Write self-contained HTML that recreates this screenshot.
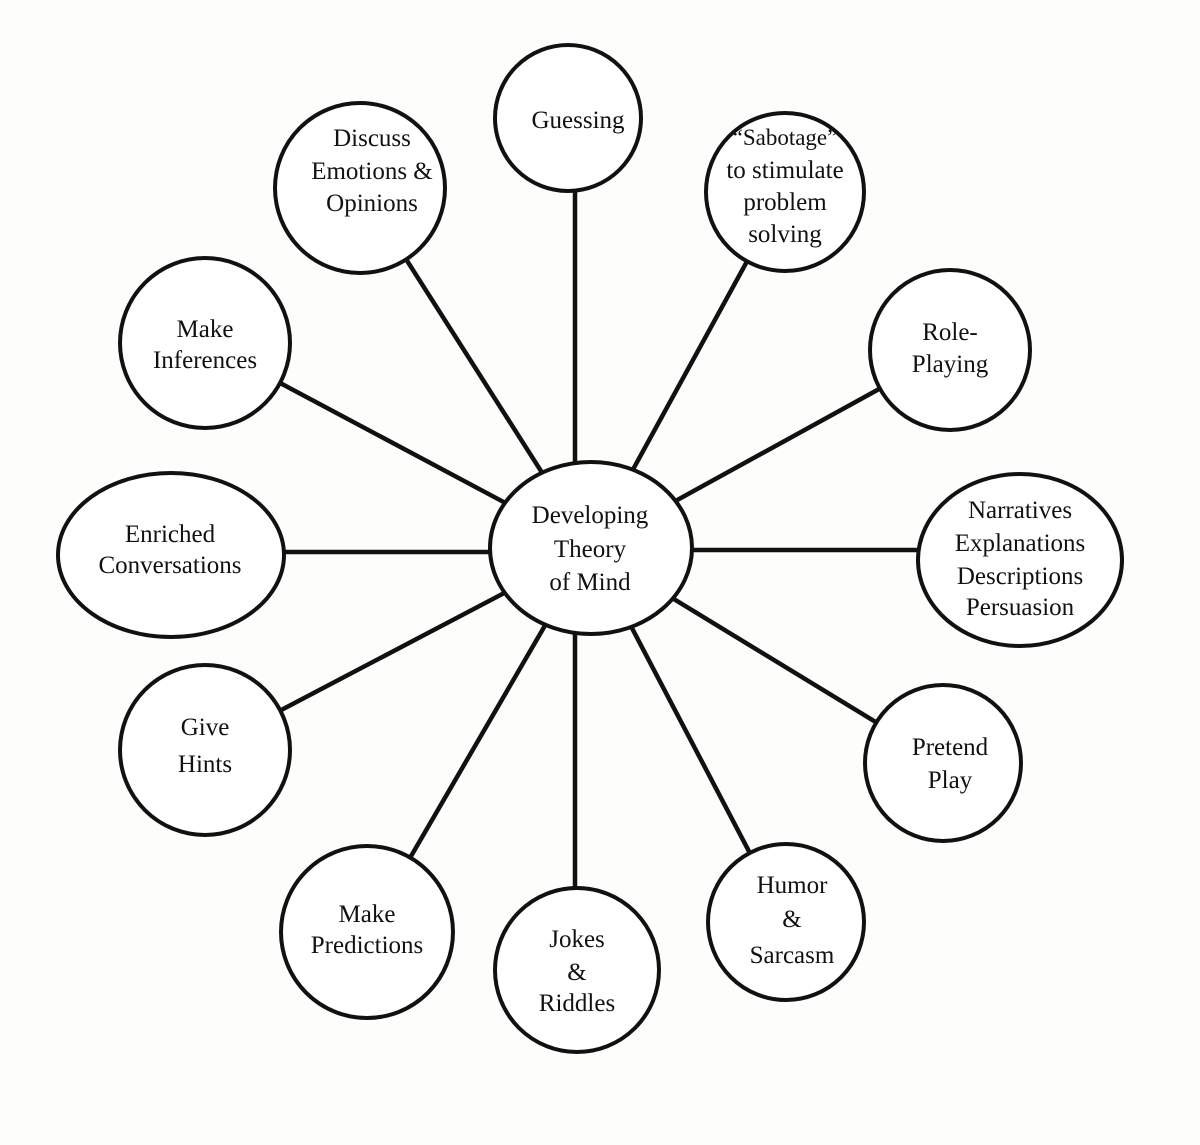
<!DOCTYPE html>
<html><head><meta charset="utf-8"><style>
html,body{margin:0;padding:0;background:#fdfdfb;}
svg{display:block}
text{font-family:"Liberation Serif",serif;font-size:25px;fill:#111;text-anchor:middle}
</style></head><body>
<svg width="1200" height="1145" viewBox="0 0 1200 1145">
<g stroke="#111" stroke-width="4.5">
<line x1="575" y1="548" x2="575" y2="115"/>
<line x1="590" y1="548" x2="785" y2="192"/>
<line x1="590" y1="548" x2="950" y2="350"/>
<line x1="590" y1="550" x2="1020" y2="550"/>
<line x1="590" y1="548" x2="943" y2="763"/>
<line x1="590" y1="548" x2="786" y2="922"/>
<line x1="575" y1="548" x2="575" y2="975"/>
<line x1="590" y1="548" x2="367" y2="932"/>
<line x1="590" y1="548" x2="205" y2="750"/>
<line x1="590" y1="552" x2="170" y2="552"/>
<line x1="590" y1="548" x2="205" y2="343"/>
<line x1="590" y1="548" x2="362" y2="190"/>
</g>
<g stroke="#111" stroke-width="4" fill="#fff">
<circle cx="568" cy="118" r="73"/>
<circle cx="785" cy="192" r="79"/>
<circle cx="950" cy="350" r="80"/>
<ellipse cx="1020" cy="560" rx="102" ry="86"/>
<circle cx="943" cy="763" r="78"/>
<circle cx="786" cy="922" r="78"/>
<circle cx="577" cy="970" r="82"/>
<circle cx="367" cy="932" r="86"/>
<circle cx="205" cy="750" r="85"/>
<ellipse cx="171" cy="555" rx="113" ry="82"/>
<circle cx="205" cy="343" r="85"/>
<circle cx="360" cy="188" r="85"/>
<ellipse cx="591" cy="548" rx="101" ry="86"/>
</g>
<text x="578" y="128">Guessing</text>
<text x="785" y="145" style="font-size:23px">“Sabotage”</text>
<text x="785" y="178">to stimulate</text>
<text x="785" y="210">problem</text>
<text x="785" y="242">solving</text>
<text x="950" y="340">Role-</text>
<text x="950" y="372">Playing</text>
<text x="1020" y="518">Narratives</text>
<text x="1020" y="551">Explanations</text>
<text x="1020" y="584">Descriptions</text>
<text x="1020" y="615">Persuasion</text>
<text x="950" y="755">Pretend</text>
<text x="950" y="788">Play</text>
<text x="792" y="893">Humor</text>
<text x="792" y="927">&amp;</text>
<text x="792" y="963">Sarcasm</text>
<text x="577" y="947">Jokes</text>
<text x="577" y="980">&amp;</text>
<text x="577" y="1011">Riddles</text>
<text x="367" y="922">Make</text>
<text x="367" y="953">Predictions</text>
<text x="205" y="735">Give</text>
<text x="205" y="772">Hints</text>
<text x="170" y="542">Enriched</text>
<text x="170" y="573">Conversations</text>
<text x="205" y="337">Make</text>
<text x="205" y="368">Inferences</text>
<text x="372" y="146">Discuss</text>
<text x="372" y="179">Emotions &amp;</text>
<text x="372" y="211">Opinions</text>
<text x="590" y="523">Developing</text>
<text x="590" y="557">Theory</text>
<text x="590" y="590">of Mind</text>
</svg>
</body></html>
